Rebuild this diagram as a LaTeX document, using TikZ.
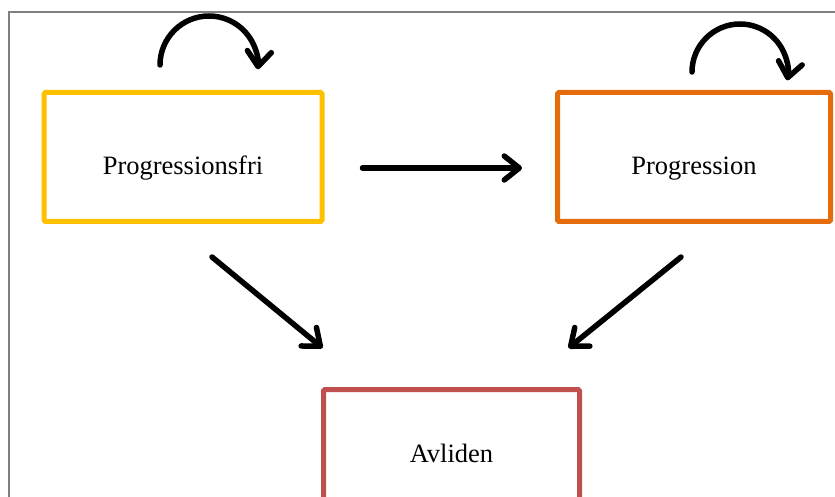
\documentclass[tikz,border=0pt]{standalone}
\usepackage{fontspec}
\setmainfont{Liberation Serif}
\usetikzlibrary{arrows.meta}
\definecolor{friyellow}{HTML}{FFC000}
\definecolor{progorange}{HTML}{E46C0A}
\definecolor{deadred}{HTML}{C0504D}
\begin{document}
\begin{tikzpicture}[x=1pt, y=1pt]
	\tikzset{
		state node/.style={rectangle, draw, line width=5pt, rounded corners=1.5pt, minimum width=278pt, minimum height=129pt, font=\fontsize{26.5}{32}\selectfont, text height=39pt, text depth=3pt},
		path/.style={-{Straight Barb[length=15pt, width=24pt, round]}, line width=5.5pt, line cap=round},
		selfloop/.style={path}
	}
	\clip (0,0) rectangle (835,496);
	% Frame
	\draw[line width=1.5pt, black!50] (9,-5) -- (9,484) -- (840,484);
	
	% States
	\node (fri) at (183,339) [state node, draw=friyellow] {Progressionsfri};
	\node (prog) at (694,339) [state node, draw=progorange, minimum width=273pt] {Progression};
	\node (dead) at (451.5,42) [state node, draw=deadred, minimum width=256pt, text height=19pt] {Avliden};
	
	% Transitions
	\draw[path] ([yshift=-11pt]fri.east) -- ([yshift=-11pt]prog.west) [shorten <=38pt, shorten >=33pt];
	\draw[path] ([xshift=29pt, yshift=-33pt]fri.south) -- ([xshift=-129pt, yshift=39pt]dead.north);
	\draw[path] ([xshift=-13pt, yshift=-33pt]prog.south) -- ([xshift=117pt, yshift=39pt]dead.north);
	
	% Staying in the same state
	\draw[selfloop] ([xshift=-23pt, yshift=25pt]fri.north) arc[start angle=180, end angle=-5, radius=49];
	\draw[selfloop] ([xshift=-2pt, yshift=18pt]prog.north) arc[start angle=180, end angle=-10, radius=48];
\end{tikzpicture}
\end{document}
